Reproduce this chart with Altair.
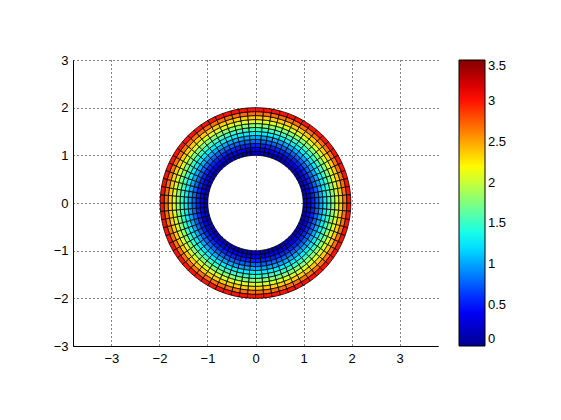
import altair as alt
import pandas as pd

# ring inner/outer radii (12 rings from r=1 to r=2)
ring_r0 = [1.0, 1.0833, 1.1667, 1.25, 1.3333, 1.4167, 1.5, 1.5833, 1.6667, 1.75, 1.8333, 1.9167]
ring_r1 = [1.0833, 1.1667, 1.25, 1.3333, 1.4167, 1.5, 1.5833, 1.6667, 1.75, 1.8333, 1.9167, 2.0]
# colour value of each ring (flat shaded)
ring_val = [0.17, 0.36, 0.56, 0.78, 1.01, 1.25, 1.51, 1.78, 2.06, 2.36, 2.67, 3.0]
n_sectors = 72

x_ticks = [-3, -2, -1, 0, 1, 2, 3]
y_ticks = [-3, -2, -1, 0, 1, 2, 3]
cbar_ticks = [0, 0.5, 1, 1.5, 2, 2.5, 3, 3.5]

jet_domain = [0, 0.4375, 1.3125, 2.1875, 3.0625, 3.5]
jet_colors = ["#00008f", "#0000ff", "#00ffff", "#ffff00", "#ff0000", "#800000"]

rows = []
step = 360.0 / n_sectors
for r0, r1, v in zip(ring_r0, ring_r1, ring_val):
    for k in range(n_sectors):
        rows.append({"t0": 90 + k * step, "t1": 90 + (k + 1) * step, "r0": r0, "r1": r1, "v": v})
cells = pd.DataFrame(rows)

font = "Liberation Sans"

axes = alt.Chart(pd.DataFrame({"x": [0], "y": [0]})).mark_point(opacity=0).encode(
    x=alt.X("x:Q", scale=alt.Scale(domain=[-3.8, 3.8], nice=False, zero=False),
            axis=alt.Axis(values=x_ticks, format="d", title=None, grid=True,
                          gridColor="black", gridDash=[1, 3], gridOpacity=1, gridWidth=1,
                          ticks=False, domainColor="black", domainWidth=1,
                          labelFont=font, labelFontSize=13, labelColor="black",
                          labelPadding=6)),
    y=alt.Y("y:Q", scale=alt.Scale(domain=[-3, 3], nice=False, zero=False),
            axis=alt.Axis(values=y_ticks, format="d", title=None, grid=True,
                          gridColor="black", gridDash=[1, 3], gridOpacity=1, gridWidth=1,
                          ticks=False, domainColor="black", domainWidth=1,
                          labelFont=font, labelFontSize=13, labelColor="black",
                          labelPadding=5)),
)

arcs = alt.Chart(cells).mark_arc(stroke="black", strokeWidth=0.8).encode(
    theta=alt.Theta("t0:Q", scale=alt.Scale(domain=[0, 360], range=[0, 6.283185307])),
    theta2="t1:Q",
    radius=alt.Radius("r1:Q", scale=alt.Scale(type="linear", domain=[0, 3], range=[0, 143], zero=True)),
    radius2="r0:Q",
    color=alt.Color("v:Q",
                    scale=alt.Scale(domain=jet_domain, range=jet_colors, interpolate="rgb"),
                    legend=alt.Legend(title=None, orient="none", legendX=386, legendY=0,
                                      direction="vertical", gradientLength=286,
                                      gradientThickness=26, gradientStrokeColor="black",
                                      gradientStrokeWidth=1, values=cbar_ticks,
                                      labelExpr="'' + datum.value",
                                      labelBaseline="middle",
                                      labelFont=font, labelFontSize=13, labelColor="black",
                                      labelOffset=3, labelOverlap=False, padding=0)),
)

chart = alt.layer(axes, arcs).properties(
    width=365, height=286,
    padding={"left": 65, "top": 52, "right": 115, "bottom": 60},
    autosize=alt.AutoSizeParams(type="none"),
).configure_view(stroke=None)

chart.save("out.html", embed_options={"renderer": "svg", "actions": False})
